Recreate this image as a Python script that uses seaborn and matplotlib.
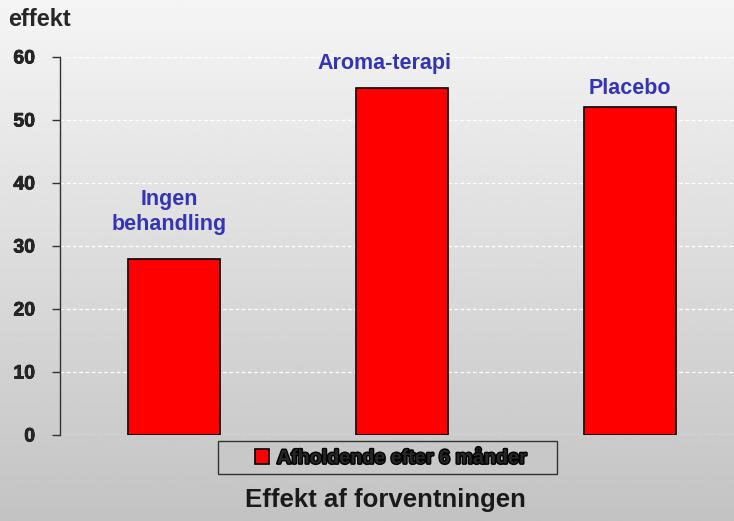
import numpy as np
import pandas as pd
import seaborn as sns
import matplotlib.pyplot as plt
import matplotlib.patheffects as pe
from matplotlib.patches import Rectangle

categories = ["Ingen\nbehandling", "Aroma-terapi", "Placebo"]
values = [28, 55, 52]
series_name = "Afholdende efter 6 månder"
yticks = [0, 10, 20, 30, 40, 50, 60]

df = pd.DataFrame({"kategori": categories, "effekt": values, "serie": series_name})

sns.set_style("white")
plt.rcParams["font.family"] = ["Liberation Sans", "DejaVu Sans"]

fig = plt.figure(figsize=(7.34, 5.21), dpi=100)

# gradient background
bg = fig.add_axes([0, 0, 1, 1], zorder=-10)
grad = np.linspace(0.96, 0.765, 256).reshape(-1, 1)
bg.imshow(grad, aspect="auto", cmap="gray", vmin=0, vmax=1, extent=[0, 1, 0, 1])
bg.axis("off")

ax = fig.add_axes([60 / 734, 1 - 435 / 521, 684 / 734, 378 / 521])
ax.patch.set_alpha(0)

sns.barplot(data=df, x="kategori", y="effekt", hue="serie", palette=["#ff0000"],
            saturation=1, edgecolor="black", linewidth=1.2, width=0.4, ax=ax, zorder=3)

ax.set_xlim(-0.5, 2.5)
ax.set_ylim(0, 60)
ax.set_yticks(yticks)
ax.set_yticklabels([str(t) for t in yticks], fontsize=14, fontweight="bold")
for t in ax.get_yticklabels():
    t.set_path_effects([pe.withStroke(linewidth=0.5, foreground="black")])
ax.set_xticks([])
ax.set_xlabel("")
ax.set_ylabel("")
ax.grid(axis="y", color="white", linestyle=(0, (3, 2)), linewidth=0.9, zorder=0)
for s in ["top", "right", "bottom"]:
    ax.spines[s].set_visible(False)
ax.spines["left"].set_color("#333333")
ax.spines["left"].set_linewidth(1.0)
ax.tick_params(axis="y", length=6, width=1, color="#333333", direction="out", pad=12, left=True)

# category labels above bars
label_pos = [(-0.02, 35.4), (0.925, 59.0), (2.0, 55.0)]
for txt, (lx, ly) in zip(categories, label_pos):
    ax.text(lx, ly, txt, ha="center", va="center", fontsize=15.5, fontweight="bold",
            color="#3434b8", linespacing=1.2, zorder=5, clip_on=False)

fig.text(8 / 734, 1 - 19 / 521, "effekt", ha="left", va="center", fontsize=17, fontweight="bold")

# legend box
ax.add_patch(Rectangle((218 / 734, 1 - 474 / 521), 339 / 734, 33 / 521,
                       transform=fig.transFigure, facecolor="#c8c8c8",
                       edgecolor="#333333", linewidth=1.0, zorder=1, clip_on=False))
leg = ax.legend(loc="center", bbox_to_anchor=(391 / 734, 1 - 458 / 521),
                bbox_transform=fig.transFigure, frameon=False,
                handlelength=0.7, handleheight=0.8, handletextpad=0.4,
                prop={"weight": "bold", "size": 14.2})
leg.set_zorder(10)
for t in leg.get_texts():
    t.set_path_effects([pe.withStroke(linewidth=2.0, foreground="black")])

fig.text(385 / 734, 1 - 500 / 521, "Effekt af forventningen", ha="center", va="center",
         fontsize=18.5, fontweight="bold", color="#1a1a1a")

fig.savefig("out.png", dpi=100)
